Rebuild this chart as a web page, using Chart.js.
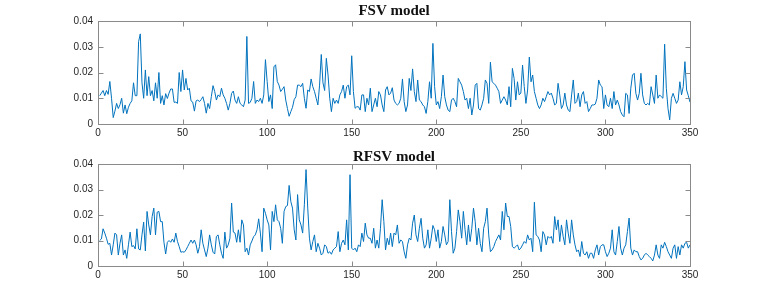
<!DOCTYPE html>
<html><head><meta charset="utf-8">
<script src="https://cdn.jsdelivr.net/npm/chart.js@4/dist/chart.umd.min.js"></script>
<style>
html,body{margin:0;padding:0;background:#fff;}
#wrap{position:relative;width:763px;height:300px;background:#fff;}
canvas{position:absolute;left:0;}
</style></head><body>
<div id="wrap">
<canvas id="c1" width="763" height="150" style="top:0"></canvas>
<canvas id="c2" width="763" height="150" style="top:150px"></canvas>
</div>
<script>
const xTicks = [0, 50, 100, 150, 200, 250, 300, 350];
const yTicks = [0, 0.01, 0.02, 0.03, 0.04];
const titles = ['FSV model', 'RFSV model'];

const fsvValues = [
0.011,0.012,0.013,0.011,0.013,0.0115,0.0165,0.010,0.0025,0.005,
0.008,0.006,0.0075,0.010,0.0042,0.0074,0.004,0.0065,0.008,0.009,
0.016,0.011,0.011,0.032,0.035,0.016,0.010,0.021,0.011,0.0184,
0.011,0.013,0.009,0.016,0.010,0.020,0.008,0.011,0.0074,0.0118,
0.0099,0.012,0.0136,0.0136,0.0084,0.0085,0.008,0.020,0.0126,0.021,
0.0132,0.0177,0.0132,0.0139,0.009,0.0085,0.005,0.009,0.0093,0.0087,
0.0095,0.0106,0.008,0.0042,0.008,0.006,0.0106,0.0149,0.0126,0.0093,
0.0113,0.0106,0.0139,0.0113,0.010,0.008,0.0054,0.008,0.0119,0.0128,
0.0093,0.008,0.0106,0.008,0.0074,0.0067,0.0093,0.034,0.008,0.0084,
0.010,0.0165,0.008,0.0093,0.0087,0.010,0.008,0.0113,0.025,0.0165,
0.0087,0.0113,0.006,0.0222,0.023,0.0165,0.0151,0.0126,0.0135,0.0145,
0.0093,0.006,0.003,0.0048,0.0065,0.0095,0.0106,0.0151,0.0151,0.0145,
0.0158,0.010,0.0061,0.0132,0.0126,0.0175,0.0145,0.0126,0.010,0.0074,
0.0151,0.027,0.016,0.013,0.0255,0.019,0.010,0.0048,0.010,0.008,
0.0093,0.008,0.0113,0.0126,0.0151,0.010,0.0145,0.0151,0.0113,0.0265,
0.0126,0.0061,0.0067,0.0067,0.0054,0.0113,0.0113,0.0048,0.010,0.0074,
0.0139,0.0048,0.0074,0.010,0.0067,0.0126,0.0113,0.0074,0.0048,0.0132,
0.0145,0.0113,0.012,0.0141,0.0093,0.008,0.0074,0.008,0.010,0.0175,
0.0087,0.0048,0.0074,0.0177,0.013,0.0214,0.0126,0.0087,0.0171,0.0093,
0.0087,0.0074,0.0067,0.0041,0.0087,0.0164,0.010,0.0313,0.0145,0.0074,
0.0087,0.006,0.0106,0.019,0.0106,0.0074,0.0054,0.0048,0.0093,0.010,
0.0087,0.0067,0.0177,0.0164,0.0151,0.0126,0.0093,0.010,0.006,0.010,
0.0035,0.0074,0.0151,0.0158,0.006,0.0054,0.0074,0.010,0.0171,0.0158,
0.008,0.024,0.0164,0.0158,0.0151,0.0139,0.0126,0.008,0.0093,0.0106,
0.0093,0.0074,0.0145,0.0067,0.0216,0.0177,0.0093,0.0164,0.0113,0.012,
0.0229,0.0145,0.008,0.0132,0.026,0.0164,0.019,0.0126,0.010,0.0074,
0.006,0.0074,0.010,0.0087,0.0106,0.0126,0.0113,0.012,0.010,0.0074,
0.008,0.0158,0.0113,0.006,0.0074,0.012,0.0074,0.0054,0.0048,0.0113,
0.0171,0.008,0.0087,0.012,0.0067,0.0113,0.0126,0.008,0.0087,0.0048,
0.006,0.0074,0.0074,0.0077,0.010,0.0171,0.0151,0.0145,0.006,0.0113,
0.0074,0.0067,0.010,0.006,0.0126,0.0074,0.0093,0.0074,0.0048,0.0035,
0.0028,0.0119,0.0113,0.0041,0.0139,0.019,0.0197,0.0119,0.0093,0.0119,
0.0197,0.0113,0.008,0.0074,0.008,0.0074,0.0145,0.0113,0.008,0.019,
0.010,0.0113,0.0106,0.010,0.031,0.0139,0.006,0.0016,0.010,0.0119,
0.010,0.008,0.0093,0.0164,0.0113,0.0145,0.0242,0.0132,0.011,0.0085
];

const rfsvValues = [
0.010,0.0106,0.0146,0.0129,0.0109,0.0085,0.0089,0.0043,0.0083,0.0129,
0.0122,0.0043,0.0089,0.0122,0.0043,0.0063,0.003,0.0083,0.0133,0.0076,
0.008,0.0067,0.0146,0.0067,0.0063,0.0122,0.0172,0.0059,0.0214,0.0161,
0.0122,0.0194,0.0227,0.0122,0.0211,0.0214,0.0174,0.0174,0.0093,0.0047,
0.0093,0.010,0.0093,0.0106,0.0093,0.0129,0.0096,0.0076,0.0054,0.0056,
0.0054,0.0063,0.0076,0.0089,0.0102,0.0089,0.0102,0.0083,0.005,0.0076,
0.0142,0.0089,0.0063,0.0037,0.007,0.0122,0.0083,0.0054,0.0047,0.0116,
0.0122,0.0083,0.005,0.003,0.0133,0.007,0.0083,0.0109,0.0247,0.0133,
0.0129,0.0093,0.0142,0.0093,0.0181,0.0161,0.0056,0.007,0.0043,0.0083,
0.0098,0.0115,0.0122,0.0142,0.0185,0.0129,0.0056,0.0227,0.0207,0.0181,
0.0161,0.0063,0.0214,0.0174,0.024,0.0181,0.0174,0.0148,0.0089,0.0214,
0.0233,0.0237,0.0316,0.0253,0.0227,0.0142,0.0102,0.028,0.0181,0.0161,
0.0129,0.024,0.0378,0.0227,0.0109,0.0063,0.0096,0.0122,0.0056,0.0089,
0.007,0.0043,0.005,0.0083,0.0076,0.005,0.0056,0.0046,0.0063,0.007,
0.0076,0.0135,0.0056,0.0089,0.0102,0.0083,0.0181,0.0063,0.0358,0.007,
0.0063,0.007,0.0056,0.0083,0.0076,0.0129,0.0096,0.0168,0.0122,0.0109,
0.0109,0.0089,0.0148,0.007,0.0102,0.007,0.0148,0.026,0.0174,0.0063,
0.0109,0.0083,0.0129,0.0076,0.0129,0.0122,0.0161,0.0089,0.0102,0.0096,
0.0056,0.003,0.0083,0.0109,0.0102,0.0168,0.020,0.0122,0.0096,0.0148,
0.0187,0.0109,0.007,0.0083,0.0142,0.007,0.0109,0.0159,0.0142,0.0096,
0.0142,0.007,0.0096,0.0155,0.0122,0.0083,0.0096,0.026,0.0135,0.005,
0.007,0.0135,0.022,0.0174,0.0109,0.0214,0.0142,0.0083,0.0161,0.0096,
0.0148,0.0227,0.0174,0.0083,0.0148,0.0089,0.0056,0.0148,0.0174,0.0227,
0.0122,0.0056,0.0063,0.0076,0.0096,0.0109,0.0122,0.0102,0.0214,0.0142,
0.0247,0.0194,0.0194,0.0155,0.0076,0.007,0.0076,0.0083,0.0063,0.007,
0.0083,0.0096,0.0089,0.0122,0.0102,0.0109,0.0056,0.025,0.0122,0.0116,
0.0102,0.0056,0.0135,0.0122,0.0083,0.0116,0.0109,0.0116,0.0089,0.0194,
0.0142,0.0181,0.0096,0.0161,0.0116,0.0083,0.0181,0.0129,0.0089,0.0181,
0.0122,0.0083,0.0056,0.0063,0.0037,0.0096,0.005,0.0043,0.0056,0.003,
0.005,0.005,0.003,0.0063,0.0083,0.0043,0.0076,0.0083,0.0083,0.0056,
0.0037,0.005,0.007,0.0142,0.0056,0.0043,0.0096,0.0155,0.007,0.0043,
0.007,0.0083,0.0135,0.0188,0.007,0.0043,0.0063,0.0056,0.0056,0.0037,
0.0024,0.003,0.0043,0.005,0.0043,0.0037,0.003,0.002,0.0043,0.0083,
0.0043,0.003,0.0083,0.007,0.0093,0.0076,0.0056,0.0043,0.003,0.007,
0.0083,0.003,0.0076,0.0043,0.0083,0.007,0.0089,0.0093,0.007,0.0083
];

const framePlugin = {
  id: 'frame',
  afterDraw(chart) {
    const {ctx, chartArea: a, scales: {x, y}} = chart;
    const L = Math.round(a.left) + 0.5, R = Math.round(a.right) + 0.5;
    const T = Math.round(a.top) + 0.5, B = Math.round(a.bottom) + 0.5;
    ctx.save();
    ctx.strokeStyle = '#8a8a8a';
    ctx.lineWidth = 1;
    ctx.strokeRect(L, T, R - L, B - T);
    ctx.beginPath();
    const tl = 5;
    xTicks.forEach(v => {
      const px = Math.round(x.getPixelForValue(v)) + 0.5;
      ctx.moveTo(px, B); ctx.lineTo(px, B - tl);
      ctx.moveTo(px, T); ctx.lineTo(px, T + tl);
    });
    yTicks.forEach(v => {
      const py = Math.round(y.getPixelForValue(v)) + 0.5;
      ctx.moveTo(L, py); ctx.lineTo(L + tl, py);
      ctx.moveTo(R, py); ctx.lineTo(R - tl, py);
    });
    ctx.stroke();
    ctx.restore();
  }
};

function makeChart(id, values, title, titlePad, titleLine, xAxisHeight) {
  return new Chart(document.getElementById(id), {
    type: 'line',
    data: {
      datasets: [{
        data: values.map((v, i) => ({x: i + 1, y: v})),
        borderColor: '#0072BD',
        borderWidth: 1,
        pointRadius: 0,
        tension: 0,
        fill: false
      }]
    },
    options: {
      responsive: false,
      animation: false,
      devicePixelRatio: 1,
      layout: {padding: {left: 0, right: 73, top: 0, bottom: 0}},
      plugins: {
        legend: {display: false},
        tooltip: {enabled: false},
        title: {
          display: true,
          fullSize: false,
          text: title,
          color: '#111',
          font: {family: '"Liberation Serif", "DejaVu Serif", serif', size: 15, weight: 'bold', lineHeight: titleLine},
          padding: titlePad
        }
      },
      scales: {
        x: {
          type: 'linear',
          min: 0, max: 350,
          afterBuildTicks: s => { s.ticks = xTicks.map(v => ({value: v})); },
          grid: {display: false, drawTicks: false},
          border: {display: false},
          ticks: {
            padding: 3, color: '#262626', maxRotation: 0, autoSkip: false,
            font: {family: '"Liberation Sans", Arial, sans-serif', size: 10},
            callback: v => String(v)
          },
          afterFit: s => { s.height = xAxisHeight; }
        },
        y: {
          type: 'linear',
          min: 0, max: 0.04,
          afterBuildTicks: s => { s.ticks = yTicks.map(v => ({value: v})); },
          grid: {display: false, drawTicks: false},
          border: {display: false},
          ticks: {
            padding: 5, color: '#262626',
            font: {family: '"Liberation Sans", Arial, sans-serif', size: 10},
            callback: v => String(v)
          },
          afterFit: s => { s.width = 98; }
        }
      }
    },
    plugins: [framePlugin]
  });
}

makeChart('c1', fsvValues, titles[0], {top: 4, bottom: 2}, '15px', 26);
makeChart('c2', rfsvValues, titles[1], {top: 0, bottom: 0}, '14px', 34);
</script>
</body></html>
